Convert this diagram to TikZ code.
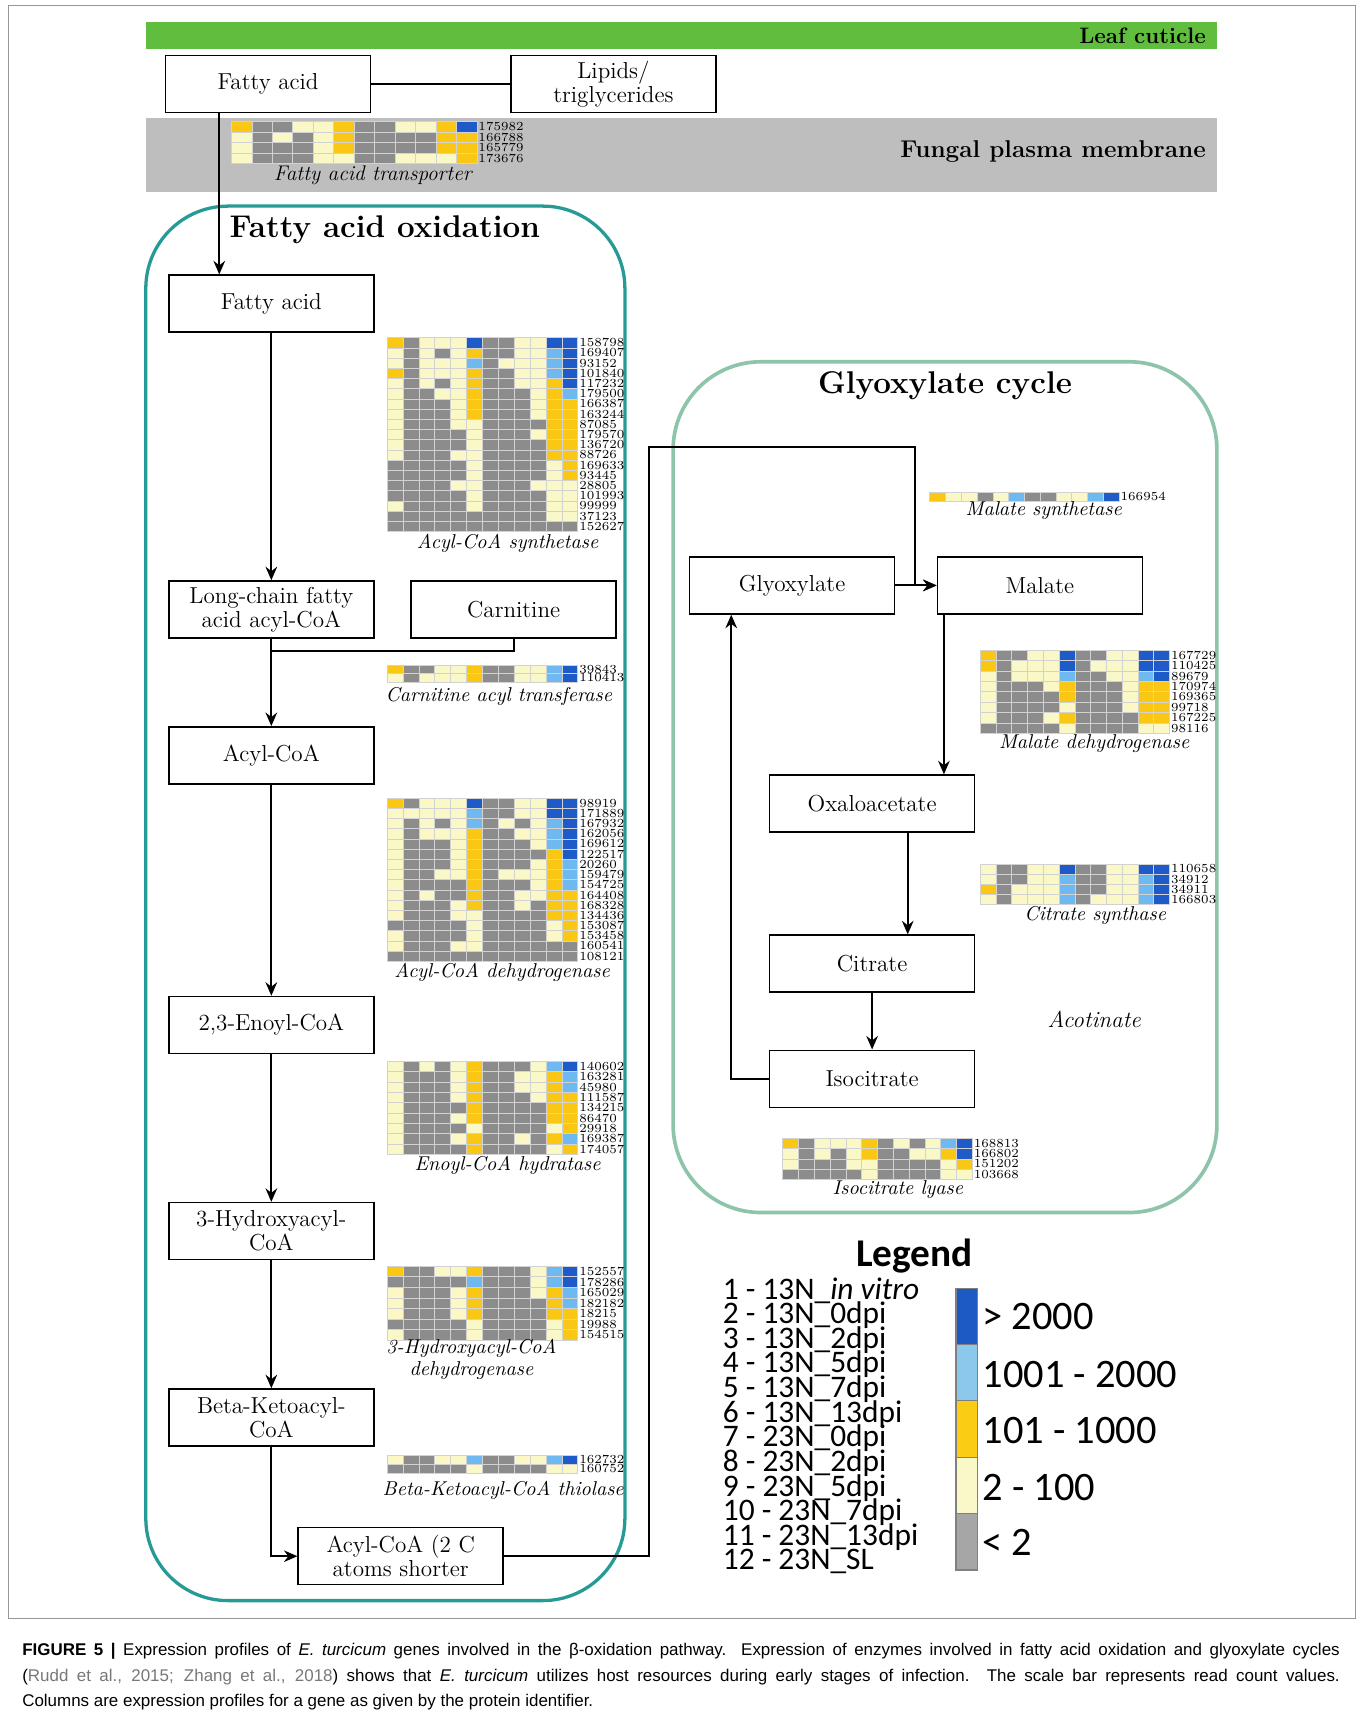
\documentclass[tikz,border=0pt]{standalone}
\usepackage{fontspec}
\usepackage{tikz}
\usetikzlibrary{arrows, arrows.meta, calc}
\newfontfamily\legendfont{Carlito}
\newfontfamily\capfont{Liberation Sans}

\definecolor{leafgreen}{RGB}{96,189,62}
\definecolor{membranegrey}{RGB}{190,190,190}
\definecolor{tealframe}{RGB}{38,155,150}
\definecolor{sageframe}{RGB}{142,196,170}
\definecolor{framegrey}{RGB}{150,150,150}
\definecolor{cellline}{RGB}{210,210,210}
\definecolor{citegrey}{RGB}{120,120,120}
\definecolor{hmg}{RGB}{140,140,140}
\definecolor{hmy}{RGB}{251,248,200}
\definecolor{hmo}{RGB}{250,200,20}
\definecolor{hml}{RGB}{110,185,240}
\definecolor{hmb}{RGB}{30,90,200}
\definecolor{legb}{RGB}{30,90,195}
\definecolor{legl}{RGB}{140,200,235}
\definecolor{lego}{RGB}{250,205,20}
\definecolor{legy}{RGB}{250,248,200}
\definecolor{legg}{RGB}{166,166,166}

\tikzstyle{arrow} = [line width=1.1pt,->,>={Stealth[length=7pt,width=6pt]}]
\tikzstyle{link} = [line width=1.1pt]
\tikzstyle{box} = [draw, line width=0.8pt, minimum width=3.74cm, minimum height=1.04cm, align=center, inner sep=1pt, font=\fontsize{12}{12.5}\selectfont]

% x, y, cell width, cell height, rows, ids, name
\newcommand{\heatmap}[7]{%
  \foreach \hrow [count=\hr] in {#5} {
    \foreach \hcol [count=\hc] in \hrow {
      \filldraw[cell, fill=hm\hcol] ({#1+(\hc-1)*#3},{#2+(\hr-1)*#4}) rectangle ++(#3,#4);
    }
  }
  \foreach \hlab [count=\hr] in {#6} {
    \node[idlab] (#7\hr) at ({#1+12*#3},{#2+(\hr-0.5)*#4}) {\hlab};
  }
}

\begin{document}
\begin{tikzpicture}[x=0.02cm, y=-0.02cm,
  idlab/.style={anchor=west, inner sep=0.6pt, font=\fontsize{6.4}{6.4}\selectfont},
  enzyme/.style={font=\fontsize{10.4}{11}\selectfont\itshape, inner sep=0pt, align=center},
  cell/.style={draw=cellline, line width=0.3pt},
  title/.style={font=\fontsize{16.3}{19}\selectfont\bfseries}]

\useasboundingbox (0,0) rectangle (1242,1568);
\fill[white] (0,0) rectangle (1242,1568);
\draw[framegrey, line width=0.5pt] (8,5) rectangle (1236,1476);

% membranes
\fill[leafgreen] (133,20) rectangle (1110,45);
\node[anchor=east, font=\fontsize{11.6}{12}\selectfont\bfseries] (leaf) at (1106,32.5) {Leaf cuticle};
\fill[membranegrey] (133,108) rectangle (1110,175);
\node[anchor=east, font=\fontsize{12.6}{13}\selectfont\bfseries] (membrane) at (1106,138) {Fungal plasma membrane};

% compartments
\draw[tealframe, line width=1.7pt, rounded corners=1.5cm] (133,188) rectangle (570,1460);
\draw[sageframe, line width=1.9pt, rounded corners=1.6cm] (614,330) rectangle (1110,1106);
\node[title] (fao) at (351,210) {Fatty acid oxidation};
\node[title] (gc) at (862,352) {Glyoxylate cycle};

% metabolites
\node[box] (fa1) at (244.5,76.5) {Fatty acid};
\node[box] (lipids) at (559.5,76.5) {Lipids/\\triglycerides};
\node[box] (fa2) at (247.5,277) {Fatty acid};
\node[box] (lcfa) at (247.5,556) {Long-chain fatty\\acid acyl-CoA};
\node[box] (carn) at (468.5,556) {Carnitine};
\node[box] (acyl) at (247.5,689) {Acyl-CoA};
\node[box] (enoyl) at (247.5,935) {2,3-Enoyl-CoA};
\node[box] (hydroxy) at (247.5,1123) {3-Hydroxyacyl-\\CoA};
\node[box] (beta) at (247.5,1293) {Beta-Ketoacyl-\\CoA};
\node[box] (shorter) at (365.5,1419.5) {Acyl-CoA (2 C\\atoms shorter};
\node[box] (glyox) at (722.5,534) {Glyoxylate};
\node[box] (malate) at (948.5,534) {Malate};
\node[box] (oxalo) at (795.5,733) {Oxaloacetate};
\node[box] (citrate) at (795.5,879) {Citrate};
\node[box] (isocit) at (795.5,984) {Isocitrate};
\node[font=\fontsize{12}{13}\selectfont\itshape] (acotinate) at (998,930) {Acotinate};

% connectors
\coordinate (join) at (247.5,594);
\coordinate (up1) at (592,408);
\coordinate (up2) at (835,408);
\draw[link] (fa1) -- (lipids);
\draw[arrow] ([xshift=-0.89cm]fa1.south) -- ([xshift=-0.89cm]fa1.south |- fa2.north);
\draw[arrow] (fa2) -- (lcfa);
\draw[arrow] (lcfa) -- (acyl);
\draw[link] (carn.south) |- (join);
\draw[arrow] (acyl) -- (enoyl);
\draw[arrow] (enoyl) -- (hydroxy);
\draw[arrow] (hydroxy) -- (beta);
\draw[arrow] (beta.south) |- (shorter.west);
\draw[arrow] (shorter.east) -| (up1) -- (up2) |- (malate.west);
\draw[arrow] (glyox) -- (malate);
\draw[arrow] ([xshift=-1.75cm]malate.south) -- ([xshift=-1.75cm]malate.south |- oxalo.north);
\draw[arrow] ([xshift=0.65cm]oxalo.south) -- ([xshift=0.65cm]oxalo.south |- citrate.north);
\draw[arrow] (citrate) -- (isocit);
\draw[arrow] (isocit.west) -| ([xshift=-1.11cm]glyox.south);

% expression heatmaps
\heatmap{211}{111}{18.67}{9.5}{
  {o,g,g,y,y,o,g,g,y,y,o,b},
  {y,g,y,g,y,o,g,g,g,g,o,o},
  {y,g,g,g,y,o,g,g,g,g,o,o},
  {y,g,g,g,y,y,g,g,y,y,y,o}}{175982,166788,165779,173676}{tr}
\node[enzyme, font=\fontsize{11}{12}\selectfont\itshape] (trlab) at (340,160) {Fatty acid transporter};

\heatmap{353}{308}{14.5}{9.3}{
  {o,g,y,y,y,b,g,g,y,y,b,b},
  {y,g,y,g,y,o,g,g,y,y,l,b},
  {y,g,y,y,y,l,g,y,y,y,l,b},
  {o,g,y,y,y,o,g,g,y,y,l,b},
  {y,g,y,g,y,o,g,g,y,y,o,b},
  {y,g,g,y,y,o,g,g,g,y,o,l},
  {y,g,g,g,y,o,g,g,g,y,o,o},
  {y,g,g,g,y,o,g,g,g,y,o,o},
  {y,g,g,g,y,y,g,g,g,g,o,o},
  {y,g,g,g,g,y,g,g,g,y,o,o},
  {y,g,g,g,g,y,g,g,g,g,o,o},
  {y,g,g,g,y,y,g,g,g,g,o,o},
  {g,g,g,g,g,y,g,g,g,g,y,o},
  {g,g,g,g,g,y,g,g,g,g,y,o},
  {g,g,g,g,y,y,g,g,g,y,y,y},
  {g,g,g,g,g,y,g,g,g,g,y,y},
  {y,g,g,g,g,y,g,g,g,g,y,y},
  {g,g,g,g,g,g,g,g,g,g,y,y},
  {g,g,g,g,g,g,g,g,g,g,g,g}}{158798,169407,93152,101840,117232,179500,166387,163244,87085,179570,136720,88726,169633,93445,28805,101993,99999,37123,152627}{syn}
\node[enzyme] (synlab) at (463,496) {Acyl-CoA synthetase};

\heatmap{353}{607}{14.5}{7.5}{
  {o,g,g,y,y,o,g,g,y,y,l,b},
  {y,g,y,y,y,o,g,g,y,y,l,b}}{39843,110413}{cat}
\node[enzyme] (catlab) at (455,635) {Carnitine acyl transferase};

\heatmap{353}{728}{14.5}{9.3}{
  {o,g,y,y,y,b,g,g,y,y,b,b},
  {y,y,y,y,y,l,g,g,y,y,b,b},
  {y,g,y,g,y,l,g,y,g,y,l,b},
  {y,g,y,y,y,o,g,g,y,y,l,b},
  {y,g,g,g,y,o,g,g,g,y,l,b},
  {y,g,g,g,y,o,g,g,g,g,o,b},
  {y,g,g,g,y,o,g,g,g,y,o,l},
  {y,g,g,y,y,o,g,y,y,y,o,l},
  {y,g,g,g,g,o,g,g,g,y,o,l},
  {y,g,y,g,g,o,g,g,y,y,o,o},
  {y,g,g,g,y,o,g,g,y,g,o,o},
  {y,g,g,g,y,y,g,g,g,g,o,o},
  {g,g,g,g,g,y,g,g,g,g,y,o},
  {y,g,g,g,g,y,g,g,g,g,y,o},
  {y,g,g,g,y,y,g,g,g,g,g,g},
  {g,g,g,g,g,g,g,g,g,g,g,g}}{98919,171889,167932,162056,169612,122517,20260,159479,154725,164408,168328,134436,153087,153458,160541,108121}{acd}
\node[enzyme] (acdlab) at (458,887) {Acyl-CoA dehydrogenase};

\heatmap{353}{968}{14.5}{9.45}{
  {y,g,y,g,y,o,g,g,g,y,l,b},
  {y,g,g,g,y,o,g,g,y,y,o,l},
  {y,g,g,g,y,o,g,g,y,y,o,l},
  {y,g,g,g,y,o,g,g,g,y,o,o},
  {y,g,g,g,g,o,g,g,g,g,o,o},
  {y,g,g,g,y,o,g,g,g,g,o,o},
  {y,g,g,g,g,y,g,g,g,g,y,o},
  {y,g,g,g,y,o,g,g,y,g,o,l},
  {y,g,g,g,g,o,g,g,g,g,y,o}}{140602,163281,45980,111587,134215,86470,29918,169387,174057}{ech}
\node[enzyme] (echlab) at (463,1063) {Enoyl-CoA hydratase};

\heatmap{353}{1155}{14.5}{9.6}{
  {o,g,g,y,y,o,g,g,g,y,l,b},
  {g,g,g,g,g,l,g,g,g,y,l,b},
  {y,g,g,g,y,o,g,g,g,y,o,l},
  {y,g,g,g,y,o,g,g,g,g,o,l},
  {y,g,g,g,y,o,g,g,g,g,o,o},
  {g,g,g,g,g,y,g,g,g,g,y,o},
  {y,g,g,g,g,y,g,g,g,g,y,o}}{152557,178286,165029,182182,18215,19988,154515}{had}
\node[enzyme] (hadlab) at (430,1240) {3-Hydroxyacyl-CoA\\dehydrogenase};

\heatmap{353}{1327}{14.5}{8.5}{
  {y,g,g,y,y,l,g,g,y,y,l,b},
  {g,g,g,g,g,y,g,g,g,g,y,y}}{162732,160752}{kat}
\node[enzyme] (katlab) at (459,1359) {Beta-Ketoacyl-CoA thiolase};

\heatmap{848}{449}{14.4}{8}{
  {o,y,y,g,y,l,g,g,y,y,l,b}}{166954}{ms}
\node[enzyme] (mslab) at (952,466) {Malate synthetase};

\heatmap{894}{593}{14.4}{9.5}{
  {o,g,g,y,y,b,g,g,y,y,b,b},
  {o,g,y,y,y,b,g,y,y,y,b,b},
  {y,g,y,y,y,l,g,g,y,y,l,b},
  {y,g,g,g,y,o,g,g,g,y,o,o},
  {y,g,g,g,g,o,g,g,g,y,o,o},
  {y,g,g,g,g,y,g,g,g,y,o,o},
  {y,g,g,g,y,o,g,g,g,g,o,o},
  {g,g,g,g,g,y,g,g,g,g,y,y}}{167729,110425,89679,170974,169365,99718,167225,98116}{mdh}
\node[enzyme] (mdhlab) at (998,678) {Malate dehydrogenase};

\heatmap{894}{788}{14.4}{9.3}{
  {y,g,g,y,y,b,g,g,y,y,b,b},
  {y,g,g,y,y,l,g,g,y,y,l,b},
  {o,g,y,y,y,l,g,g,y,y,l,b},
  {y,g,y,y,y,l,g,y,y,y,l,b}}{110658,34912,34911,166803}{cs}
\node[enzyme] (cslab) at (999,835) {Citrate synthase};

\heatmap{714}{1038}{14.4}{9.5}{
  {o,g,y,y,y,o,g,y,g,y,l,b},
  {y,g,y,g,y,o,g,g,y,y,o,b},
  {y,g,g,g,y,y,g,g,g,g,y,o},
  {g,g,g,g,g,y,g,g,g,g,y,y}}{168813,166802,151202,103668}{icl}
\node[enzyme] (icllab) at (819,1085) {Isocitrate lyase};

% legend
\node[font=\legendfont\bfseries\fontsize{20.4}{24}\selectfont] (legend) at (834,1146) {Legend};
\foreach \txt [count=\n] in {1 - 13N\_\textit{in vitro}, 2 - 13N\_0dpi, 3 - 13N\_2dpi, 4 - 13N\_5dpi, 5 - 13N\_7dpi, 6 - 13N\_13dpi, 7 - 23N\_0dpi, 8 - 23N\_2dpi, 9 - 23N\_5dpi, 10 - 23N\_7dpi, 11 - 23N\_13dpi, 12 - 23N\_SL}
  \node[anchor=base west, inner sep=0pt, font=\legendfont\fontsize{16.3}{16}\selectfont] (item\n) at (659,{1185+(\n-1)*22.45}) {\txt};
\foreach \col [count=\n] in {legb,legl,lego,legy,legg}
  \filldraw[fill=\col, draw=gray, line width=0.6pt] (872,{1175+(\n-1)*51.4}) rectangle ++(20,51.4);
\foreach \txt/\yy [count=\n] in {> 2000/1201, 1001 - 2000/1254, 101 - 1000/1305, 2 - 100/1357, < 2/1407}
  \node[anchor=west, inner sep=0pt, font=\legendfont\fontsize{21}{24}\selectfont] (range\n) at (896,\yy) {\txt};

% caption
\node[anchor=west, inner sep=0pt, font=\capfont\fontsize{8.8}{10}\selectfont] (cap1) at (20,1506) {\makebox[24.04cm][s]{\textbf{FIGURE 5 |} Expression profiles of \textit{E. turcicum} genes involved in the β-oxidation pathway. Expression of enzymes involved in fatty acid oxidation and glyoxylate cycles}};
\node[anchor=west, inner sep=0pt, font=\capfont\fontsize{8.8}{10}\selectfont] (cap2) at (20,1530) {\makebox[24.04cm][s]{(\textcolor{citegrey}{Rudd et al., 2015; Zhang et al., 2018}) shows that \textit{E. turcicum} utilizes host resources during early stages of infection. The scale bar represents read count values.}};
\node[anchor=west, inner sep=0pt, font=\capfont\fontsize{8.8}{10}\selectfont] (cap3) at (20,1553) {Columns are expression profiles for a gene as given by the protein identifier.};
\end{tikzpicture}
\end{document}
